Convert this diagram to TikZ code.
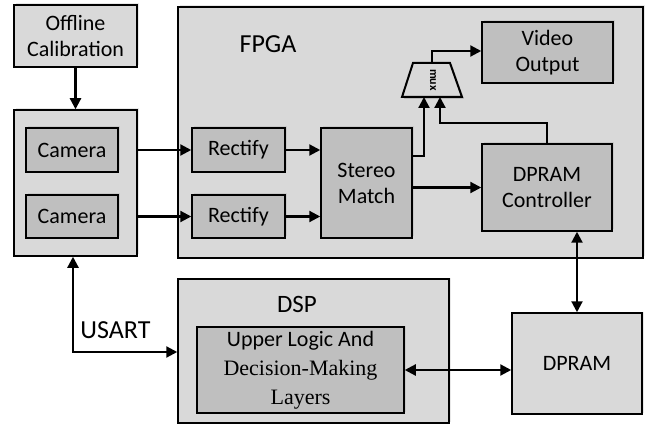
\documentclass[tikz,border=0pt]{standalone}
\usepackage{fontspec}
\setmainfont{Carlito}
\newfontfamily\serifx{Liberation Serif}
\usetikzlibrary{arrows.meta,shadows}
\definecolor{outerg}{HTML}{D9D9D9}
\definecolor{innerg}{HTML}{BFBFBF}
\tikzset{
  sh/.style={drop shadow={opacity=0.18,shadow xshift=1.5pt,shadow yshift=1.5pt}},
  outerbox/.style={draw=black,line width=1.5pt,fill=outerg,sh,inner sep=0pt,align=center,font=\fontsize{22}{26}\selectfont},
  innerbox/.style={draw=black,line width=1.5pt,fill=innerg,sh,inner sep=0pt,align=center,font=\fontsize{22}{26}\selectfont},
  conn/.style={line width=2.2pt,-{Triangle[length=11pt,width=11pt]}},
  biconn/.style={line width=2.2pt,{Triangle[length=11pt,width=11pt]}-{Triangle[length=11pt,width=11pt]}},
  biglabel/.style={font=\fontsize{26}{30}\selectfont,inner sep=0pt}
}
\begin{document}
\begin{tikzpicture}[x=1pt,y=-1pt]
\useasboundingbox (0,0) rectangle (654,425);
% outer containers
\node[outerbox,minimum width=123pt,minimum height=62pt] (calib) at (75.5,36) {Offline\\Calibration};
\node[outerbox,minimum width=123pt,minimum height=146pt] (camout) at (75.5,183) {};
\node[outerbox,minimum width=465pt,minimum height=251pt] (fpga) at (410.5,132.5) {};
\node[outerbox,minimum width=271pt,minimum height=144pt] (dsp) at (313.5,351) {};
\node[outerbox,minimum width=130pt,minimum height=101pt] (dpram) at (577,363.5) {DPRAM};
% labels
\node[biglabel] (fpgalbl) at (268,44) {FPGA};
\node[biglabel,font=\fontsize{25}{30}\selectfont] (dsplbl) at (297,304) {DSP};
\node[biglabel] (usart) at (115.5,330) {USART};
% inner boxes
\node[innerbox,minimum width=92pt,minimum height=44pt] (cam1) at (72,150) {Camera};
\node[innerbox,minimum width=92pt,minimum height=43pt] (cam2) at (72,216.5) {Camera};
\node[innerbox,minimum width=93pt,minimum height=44pt] (rect1) at (238.5,150) {Rectify};
\node[innerbox,minimum width=93pt,minimum height=43pt] (rect2) at (238.5,216.5) {Rectify};
\node[innerbox,minimum width=91pt,minimum height=110pt] (stereo) at (366.5,183) {Stereo\\Match};
\node[innerbox,minimum width=130pt,minimum height=87pt] (ctrl) at (547,187.5) {DPRAM\\Controller};
\node[innerbox,minimum width=131pt,minimum height=61pt] (video) at (547.5,52.5) {Video\\Output};
\node[innerbox,minimum width=207pt,minimum height=86pt,font=\fontsize{22}{29}\selectfont] (upper) at (300.5,370) {Upper Logic And\\{\serifx Decision-Making}\\{\serifx Layers}};
% mux
\coordinate (mtl) at (413,63);
\coordinate (mtr) at (450,63);
\coordinate (mbr) at (462,97);
\coordinate (mbl) at (402,97);
\coordinate (mtop) at (432,63);
\coordinate (min1) at (424,97);
\coordinate (min2) at (440,97);
\fill[black,opacity=0.15] ([shift={(2,2)}]mtl) -- ([shift={(2,2)}]mtr) -- ([shift={(2,2)}]mbr) -- ([shift={(2,2)}]mbl) -- cycle;
\draw[line width=2pt,fill=outerg,line join=miter] (mtl) -- (mtr) -- (mbr) -- (mbl) -- cycle;
\node[rotate=-90,font=\fontsize{12}{13}\selectfont\bfseries,inner sep=0pt] (muxlbl) at (433,80) {mux};
% connectors
\draw[conn] (calib.south) -- (camout.north);
\draw[conn] (camout.east |- cam1.east) -- (rect1.west);
\draw[conn] (camout.east |- cam2.east) -- (rect2.west);
\draw[conn] (rect1.east) -- (stereo.west |- rect1.east);
\draw[conn] (rect2.east) -- (stereo.west |- rect2.east);
\draw[conn] (stereo.east |- ctrl.west) -- (ctrl.west);
\coordinate (sout) at (412,156);
\draw[conn] (sout) -| (min1);
\coordinate (cup) at (547,123);
\draw[conn] (ctrl.north) -- (cup) -| (min2);
\coordinate (mup) at (432,51);
\draw[conn] (mtop) -- (mup) -- (video.west |- mup);
\draw[biconn] (dpram.north |- ctrl.south) -- (dpram.north);
\draw[biconn] (upper.east) -- (dpram.west |- upper.east);
\coordinate (us) at (73,352);
\draw[biconn] (camout.south -| us) |- (dsp.west |- us);
\end{tikzpicture}
\end{document}
